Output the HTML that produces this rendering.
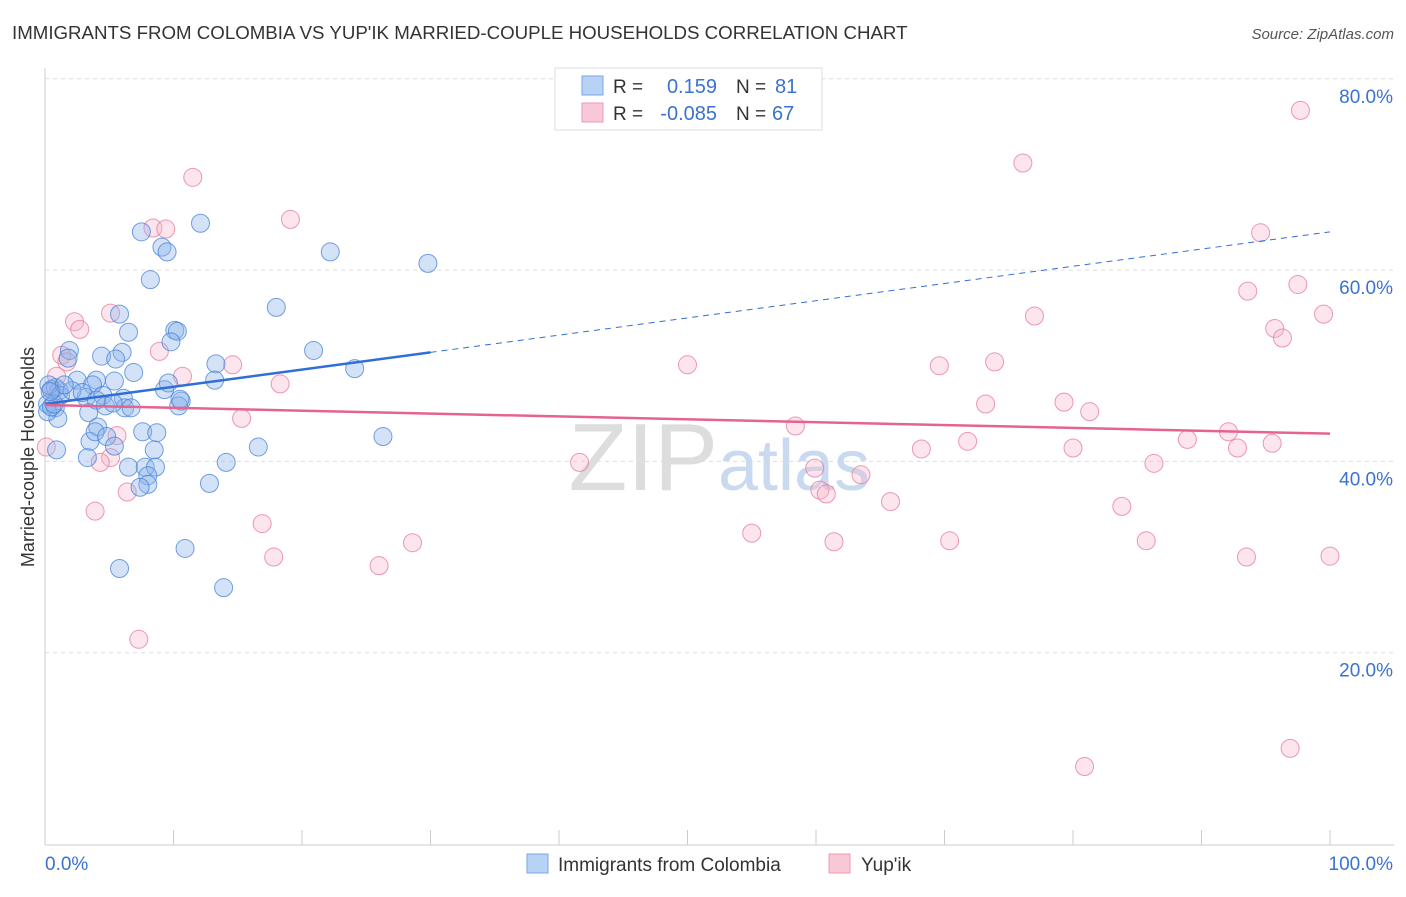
<!DOCTYPE html>
<html><head><meta charset="utf-8"><style>
body{margin:0;background:#fff;font-family:"Liberation Sans",sans-serif;}
svg text{font-family:"Liberation Sans",sans-serif;}
</style></head><body>
<svg id="chart" width="1406" height="892" xmlns="http://www.w3.org/2000/svg">
<text x="12" y="39" font-size="18.7" fill="#333">IMMIGRANTS FROM COLOMBIA VS YUP'IK MARRIED-COUPLE HOUSEHOLDS CORRELATION CHART</text>
<text x="1394" y="39" font-size="15" fill="#555" font-style="italic" text-anchor="end">Source: ZipAtlas.com</text>
<g id="grid"></g>
<text x="718" y="490" font-size="96" fill="#ddd" text-anchor="end">ZIP</text>
<text x="718" y="490" font-size="72" fill="#c9daf0">atlas</text>
<g id="points"></g>
<g id="trends"></g>
<text x="34" y="457" font-size="18" fill="#333" text-anchor="middle" transform="rotate(-90 34 457)">Married-couple Households</text>
<g>
<rect x="555" y="68" width="267" height="62" fill="#fff" stroke="#ddd"/>
<rect x="582" y="76" width="21" height="19" fill="#b8d2f5" stroke="#7aa6e6"/>
<rect x="582" y="103" width="21" height="19" fill="#f9c8d6" stroke="#ec9ab4"/>
<text x="613" y="93" font-size="19" fill="#333">R =</text>
<text x="717" y="93" font-size="20" fill="#3a72d0" text-anchor="end">0.159</text>
<text x="736" y="93" font-size="19" fill="#333">N =</text>
<text x="775" y="93" font-size="20" fill="#3a72d0">81</text>
<text x="613" y="120" font-size="19" fill="#333">R =</text>
<text x="717" y="120" font-size="20" fill="#3a72d0" text-anchor="end">-0.085</text>
<text x="736" y="120" font-size="19" fill="#333">N =</text>
<text x="772" y="120" font-size="20" fill="#3a72d0">67</text>
</g>
<g>
<rect x="527" y="854" width="21" height="19" fill="#b8d2f5" stroke="#7aa6e6"/>
<text x="558" y="871" font-size="19" fill="#333">Immigrants from Colombia</text>
<rect x="829" y="854" width="21" height="19" fill="#f9c8d6" stroke="#ec9ab4"/>
<text x="861" y="871" font-size="19" fill="#333">Yup'ik</text>
</g>
</svg>
<script>
const yTicks=[20,40,60,80];
const yTickLabels=["20.0%","40.0%","60.0%","80.0%"];
const xTicks=[0,10,20,30,40,50,60,70,80,90,100];
const colX=[7.5,12.1,9.1,9.5,8.2,22.2,29.8,18.0,5.8,6.5,10.1,10.3,9.8,20.9,6.0,4.4,1.9,1.8,5.5,6.9,13.3,24.1,13.2,9.3,10.6,9.6,2.5,4.0,3.7,5.4,3.2,1.1,0.5,0.8,0.3,0.2,0.8,1.0,3.4,4.5,4.7,6.1,6.2,5.3,6.7,10.4,10.5,7.6,4.1,8.7,3.5,3.9,4.8,3.3,8.5,6.5,7.8,8.6,8.0,8.0,7.4,16.6,14.1,26.3,12.8,10.9,5.8,13.9,0.9,0.2,0.5,1.2,2.1,2.9,1.5,5.4,4.0,0.7,0.4];
const colY=[64.0,64.9,62.4,61.9,59.0,61.9,60.7,56.1,55.4,53.5,53.7,53.6,52.5,51.6,51.4,51.0,51.6,50.8,50.7,49.3,50.2,49.7,48.5,47.5,46.3,48.2,48.5,48.5,48.0,48.4,46.7,47.4,47.5,47.7,48.0,46.0,45.6,44.5,45.1,46.9,45.8,46.6,45.6,46.1,45.6,45.8,46.5,43.1,43.6,43.0,42.1,43.1,42.6,40.4,41.2,39.4,39.4,39.4,38.5,37.6,37.3,41.5,39.9,42.6,37.7,30.9,28.8,26.8,41.2,45.2,45.7,46.9,47.4,47.2,48.0,41.6,46.4,46.0,47.3];
const yupX=[97.7,11.5,76.1,19.1,8.4,9.4,94.6,97.5,93.6,77.0,99.5,95.7,96.3,5.1,2.3,2.7,8.9,1.3,1.7,14.6,50.0,69.6,73.9,10.7,18.3,0.9,79.3,73.2,15.3,81.3,58.4,92.1,71.8,68.2,80.0,88.9,92.8,95.5,5.6,5.1,4.3,41.6,59.9,86.3,63.5,60.3,60.8,6.4,3.9,65.8,83.8,16.9,55.0,61.4,70.4,85.7,17.8,93.5,100,28.6,26.0,7.3,80.9,96.9,0.1,0.5];
const yupY=[76.7,69.7,71.2,65.3,64.4,64.3,63.9,58.5,57.8,55.2,55.4,53.9,52.9,55.5,54.6,53.8,51.5,51.1,50.4,50.1,50.1,50.0,50.4,48.9,48.1,48.9,46.2,46.0,44.5,45.2,43.7,43.1,42.1,41.3,41.4,42.3,41.4,41.9,42.7,40.4,39.9,39.9,39.3,39.8,38.6,37.0,36.6,36.8,34.8,35.8,35.3,33.5,32.5,31.6,31.7,31.7,30.0,30.0,30.1,31.5,29.1,21.4,8.1,10.0,41.5,47.5];
const colTrend=[46.0,0.18];
const yupTrend=[45.9,-0.030];
const colSolidEnd=30;

const NS="http://www.w3.org/2000/svg";
const sx=v=>45+v*12.85;
const sy=v=>844-v*9.565;
function mk(tag,attrs,parent){const e=document.createElementNS(NS,tag);for(const k in attrs)e.setAttribute(k,attrs[k]);parent.appendChild(e);return e;}
const grid=document.getElementById('grid');
const axY=mk('line',{x1:45,y1:68,x2:45,y2:845,stroke:'#ccc'},grid);


const axX=mk('line',{x1:45,y1:845,x2:1394,y2:845,stroke:'#ccc'},grid);


yTicks.forEach((t,i)=>{
 const l=mk('line',{x1:45,y1:sy(t),x2:1394,y2:sy(t),stroke:'#ddd','stroke-dasharray':'4,4'},grid);
 
 
 const tx=mk('text',{x:1393,y:sy(t)+24,'font-size':19,fill:'#3a72d0','text-anchor':'end'},grid);
 tx.textContent=yTickLabels[i];
 
 
});
xTicks.forEach(t=>{
 const l=mk('line',{x1:sx(t),y1:830,x2:sx(t),y2:845,stroke:'#ccc'},grid);
 
 
});
const xMin=mk('text',{x:45,y:870,'font-size':19,fill:'#3a72d0'},grid);
xMin.textContent='0.0%';


const xMax=mk('text',{x:1393,y:870,'font-size':19,fill:'#3a72d0','text-anchor':'end'},grid);
xMax.textContent='100.0%';



const pts=document.getElementById('points');
yupX.forEach((x,i)=>{
 const c=mk('circle',{cx:sx(x),cy:sy(yupY[i]),r:9,fill:'rgba(246,180,200,0.35)',stroke:'rgba(230,120,155,0.75)','stroke-width':1},pts);
 
 
});
colX.forEach((x,i)=>{
 const c=mk('circle',{cx:sx(x),cy:sy(colY[i]),r:9,fill:'rgba(140,180,235,0.38)',stroke:'rgba(70,130,215,0.75)','stroke-width':1},pts);
 
 
});
const tr=document.getElementById('trends');
const f=(t,x)=>t[0]+t[1]*x;
const b1=mk('line',{x1:sx(0),y1:sy(f(colTrend,0)),x2:sx(colSolidEnd),y2:sy(f(colTrend,colSolidEnd)),stroke:'#2f6fd6','stroke-width':2.5},tr);


const b2=mk('line',{x1:sx(colSolidEnd),y1:sy(f(colTrend,colSolidEnd)),x2:sx(100),y2:sy(f(colTrend,100)),stroke:'#2f6fd6','stroke-width':1,'stroke-dasharray':'6,5'},tr);


const p1=mk('line',{x1:sx(0),y1:sy(f(yupTrend,0)),x2:sx(100),y2:sy(f(yupTrend,100)),stroke:'#e4648f','stroke-width':2.5},tr);


</script>
</body></html>
